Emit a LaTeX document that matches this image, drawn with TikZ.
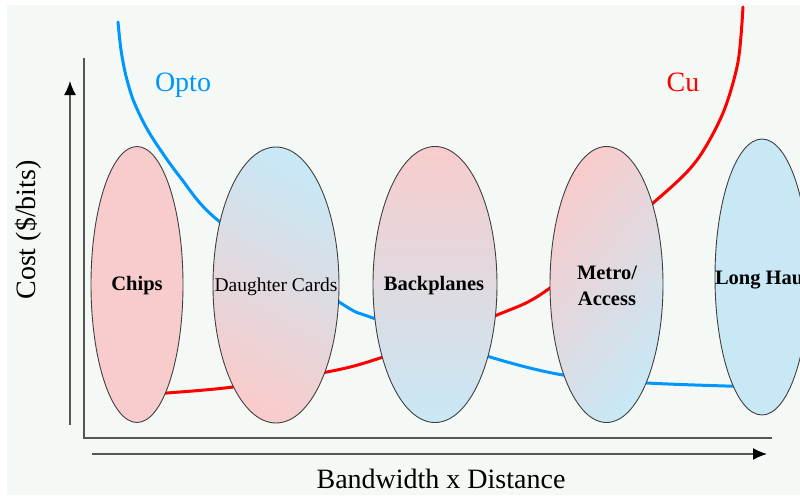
\documentclass[tikz,border=0pt]{standalone}
\usepackage{fontspec}
\setmainfont{Liberation Serif}
\usetikzlibrary{shapes.geometric,arrows.meta}

\definecolor{bgc}{RGB}{245,249,245}
\definecolor{pinkc}{RGB}{248,204,204}
\definecolor{bluec}{RGB}{200,232,245}
\definecolor{optoc}{RGB}{0,150,255}
\definecolor{cuc}{RGB}{255,0,0}
\definecolor{axisc}{RGB}{85,85,85}

\begin{document}
\begin{tikzpicture}[x=1pt,y=-1pt]
   \tikzstyle{band}=[draw=black!75, line width=0.9pt, ellipse, inner sep=0pt, minimum height=276pt]
   \tikzstyle{lbl}=[inner sep=0pt, align=center, font=\fontsize{20.5}{26}\selectfont\bfseries]
   \tikzstyle{big}=[inner sep=0pt, font=\fontsize{28}{32}\selectfont]
   \tikzstyle{curve}=[line width=3pt, line cap=round]
   \tikzstyle{axis}=[draw=axisc, line width=1.5pt]
   \tikzstyle{tip}=[-{Latex[length=14pt,width=12pt,black]}]

\useasboundingbox (0,0) rectangle (800,495);
\clip (0,0) rectangle (800,495);
\fill[white] (0,0) rectangle (800,495);
\fill[bgc] (7,5) rectangle (800,495);

% axes
\draw[axis] (84,58) -- (84,438) -- (772,438);
\draw[axis, tip] (70,425) -- (70,81);
\draw[axis, tip] (92,454) -- (767,454);
\node[big, rotate=90] (cost) at (28,230) {Cost (\$/bits)};
\node[big] (bwd) at (441,479) {Bandwidth x Distance};

% cost curves
\draw[curve, optoc] plot[smooth] coordinates {(118,22) (121,50) (126,76) (134,102) (150,134) (180,177) (220,222) (339,302) (373,318) (490,357) (563,375) (647,383) (760,387)};
\draw[curve, cuc] plot[smooth] coordinates {(743,7) (738,62) (723,113) (697,160) (660,197) (550,288) (497,315) (380,358) (327,372) (233,387) (167,393) (150,394)};
\node[big, text=optoc] (opto) at (183,85) {Opto};
\node[big, text=cuc] (cu) at (683,82) {Cu};

% application bands
\node[band, minimum width=92pt, fill=pinkc] (chips) at (137,284.5) {};
\node[band, minimum width=126pt, top color=bluec, bottom color=pinkc, shading angle=-30] (daughter) at (276,285) {};
\node[band, minimum width=124pt, top color=pinkc, bottom color=bluec] (backplanes) at (435,284.5) {};
\node[band, minimum width=113pt, top color=pinkc, bottom color=bluec, shading angle=50] (metro) at (606.5,284.5) {};
\node[band, minimum width=94pt, fill=bluec] (longhaul) at (762,277) {};

\node[lbl] (chipsl) at (137,286) {Chips};
\node[lbl, font=\fontsize{19.5}{26}\selectfont] (daughterl) at (276,287) {Daughter Cards};
\node[lbl] (backplanesl) at (434,286) {Backplanes};
\node[lbl] (metrol) at (607,286) {Metro/\\Access};
\node[lbl] (longhaull) at (762,280) {Long Haul};

\end{tikzpicture}
\end{document}
